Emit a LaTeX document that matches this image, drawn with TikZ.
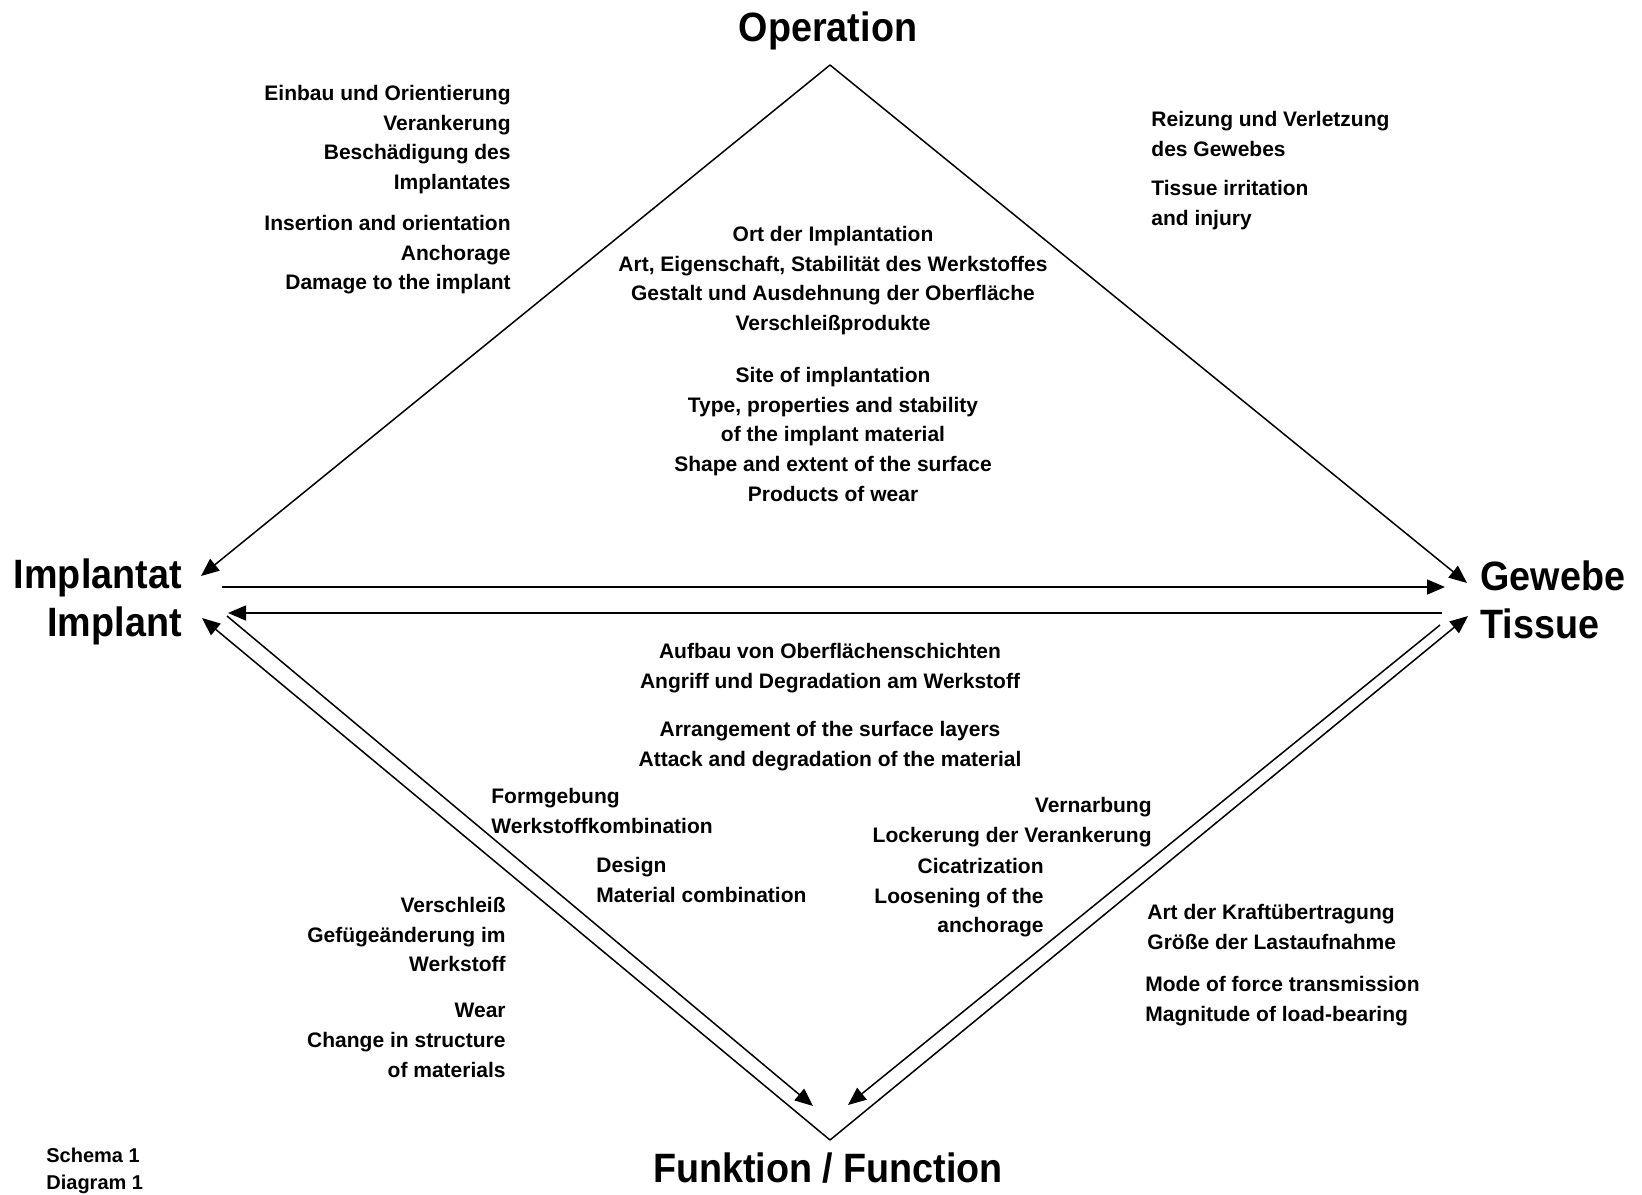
\documentclass[tikz,border=0pt]{standalone}
\usepackage{fontspec}
\setmainfont{Liberation Sans}
\newfontfamily\headfont{Liberation Sans}[FakeStretch=0.92]
\usetikzlibrary{arrows.meta}

\begin{document}
\begin{tikzpicture}[x=0.5pt, y=-0.5pt,
    arr/.style={-{Triangle[length=9pt,width=7.5pt]}, line width=0.75pt},
    txt/.style={inner sep=0pt, font=\fontsize{10.5}{14.8}\selectfont\bfseries},
    head/.style={inner sep=0pt, font=\headfont\fontsize{20.5}{24}\selectfont\bfseries}]
    		\useasboundingbox (0,0) rectangle (1642,1194);
    		
    		% corners
    		\node[head, anchor=base] (operation) at (828,41) {Operation};
    		\node[head, anchor=north east, align=right] (implantat) at (182,558) {Implantat\\Implant};
    		\node[head, anchor=north west, align=left] (gewebe) at (1480,560) {Gewebe\\Tissue};
    		\node[head, anchor=base] (funktion) at (828,1182) {Funktion / Function};
    		
    		% arrow ends
    		\coordinate (apex) at (830,65);
    		\coordinate (foot) at (830,1140);
    		\coordinate (implTop) at (201,576);
    		\coordinate (gewTop) at (1467,583);
    		\coordinate (implMid) at (222,587);
    		\coordinate (gewMid) at (1445,587);
    		\coordinate (gewLow) at (1442,613);
    		\coordinate (implLow) at (228,613);
    		\coordinate (implBot) at (202,618);
    		\coordinate (implStart) at (227,616);
    		\coordinate (footL) at (813,1106);
    		\coordinate (tisBot) at (1468,616);
    		\coordinate (tisStart) at (1440,625);
    		\coordinate (footR) at (848,1105);
    		
    		% upper edges
    		\draw[arr] (apex) -- (implTop);
    		\draw[arr] (apex) -- (gewTop);
    		
    		% middle arrows
    		\draw[arr] (implMid) -- (gewMid);
    		\draw[arr] (gewLow) -- (implLow);
    		
    		% lower edges
    		\draw[arr] (foot) -- (implBot);
    		\draw[arr] (implStart) -- (footL);
    		\draw[arr] (foot) -- (tisBot);
    		\draw[arr] (tisStart) -- (footR);
    		
    		% operation / implant
    		\node[txt, anchor=north east, align=right] (einbau) at (511,85) {Einbau und Orientierung\\Verankerung\\Beschädigung des\\Implantates};
    		\node[txt, anchor=north east, align=right] (insertion) at (511,215) {Insertion and orientation\\Anchorage\\Damage to the implant};
    		
    		% operation / tissue
    		\node[txt, anchor=north west, align=left] (reizung) at (1151,111) {Reizung und Verletzung\\des Gewebes};
    		\node[txt, anchor=north west, align=left] (irritation) at (1151,180) {Tissue irritation\\and injury};
    		
    		% implant -> tissue
    		\node[txt, anchor=north, align=center] (ort) at (833,226) {Ort der Implantation\\Art, Eigenschaft, Stabilität des Werkstoffes\\Gestalt und Ausdehnung der Oberfläche\\Verschleißprodukte};
    		\node[txt, anchor=north, align=center] (site) at (833,367) {Site of implantation\\Type, properties and stability\\of the implant material\\Shape and extent of the surface\\Products of wear};
    		
    		% tissue -> implant
    		\node[txt, anchor=north, align=center] (aufbau) at (830,643) {Aufbau von Oberflächenschichten\\Angriff und Degradation am Werkstoff};
    		\node[txt, anchor=north, align=center] (arrangement) at (830,721) {Arrangement of the surface layers\\Attack and degradation of the material};
    		
    		% implant -> function
    		\node[txt, anchor=north west, align=left] (formgebung) at (491,788) {Formgebung\\Werkstoffkombination};
    		\node[txt, anchor=north west, align=left] (design) at (596,857) {Design\\Material combination};
    		
    		% tissue -> function
    		\node[txt, anchor=north east, align=right] (vernarbung) at (1152,797) {Vernarbung\\Lockerung der Verankerung};
    		\node[txt, anchor=north east, align=right] (cicatrization) at (1044,858) {Cicatrization\\Loosening of the\\anchorage};
    		
    		% function -> implant
    		\node[txt, anchor=north east, align=right] (verschleiss) at (506,897) {Verschleiß\\Gefügeänderung im\\Werkstoff};
    		\node[txt, anchor=north east, align=right] (wear) at (506,1003) {Wear\\Change in structure\\of materials};
    		
    		% function -> tissue
    		\node[txt, anchor=north west, align=left] (kraft) at (1147,904) {Art der Kraftübertragung\\Größe der Lastaufnahme};
    		\node[txt, anchor=north west, align=left] (mode) at (1145,976) {Mode of force transmission\\Magnitude of load-bearing};
    		
    		% caption
    		\node[txt, anchor=north west, align=left, font=\fontsize{10}{13.5}\selectfont\bfseries] (schema) at (46,1148) {Schema 1\\Diagram 1};
    	\end{tikzpicture}
\end{document}
